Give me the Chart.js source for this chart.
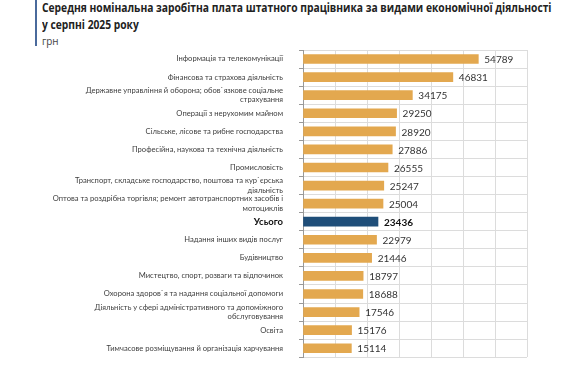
<!DOCTYPE html>
<html><head><meta charset="utf-8">
<script src="https://cdn.jsdelivr.net/npm/chart.js@4/dist/chart.umd.min.js"></script>
<style>
html,body{margin:0;padding:0;background:#fff;width:580px;height:378px;overflow:hidden;}
#wrap{position:relative;width:580px;height:378px;}
#bar{position:absolute;left:35px;top:0;width:2px;height:46px;background:#4a6a9c;}
#t1,#t2,#t3{position:absolute;left:42px;font-family:"Open Sans",sans-serif;color:#222;white-space:nowrap;transform-origin:0 0;}
#t1{top:-1px;font-size:12.6px;font-weight:bold;transform:scaleX(0.815);}
#t2{top:16px;font-size:12.6px;font-weight:bold;transform:scaleX(0.815);}
#t3{top:33px;font-size:11px;color:#444;transform:scaleX(0.9);}
canvas{position:absolute;left:0;top:0;}
</style></head>
<body><div id="wrap">
<div id="bar"></div>
<div id="t1">Середня номінальна заробітна плата штатного працівника за видами економічної діяльності</div>
<div id="t2">у серпні 2025 року</div>
<div id="t3">грн</div>
<canvas id="c" width="580" height="378"></canvas>
</div>
<script>
const categories = [
  ["Інформація та телекомунікації"],
  ["Фінансова та страхова діяльність"],
  ["Державне управління й оборона; обов`язкове соціальне","страхування"],
  ["Операції з нерухомим майном"],
  ["Сільське, лісове та рибне господарства"],
  ["Професійна, наукова та технічна діяльність"],
  ["Промисловість"],
  ["Транспорт, складське господарство, поштова та кур`єрська","діяльність"],
  ["Оптова та роздрібна торгівля; ремонт автотранспортних засобів і","мотоциклів"],
  ["Усього"],
  ["Надання інших видів послуг"],
  ["Будівництво"],
  ["Мистецтво, спорт, розваги та відпочинок"],
  ["Охорона здоров`я та надання соціальної допомоги"],
  ["Діяльність у сфері адміністративного та допоміжного","обслуговування"],
  ["Освіта"],
  ["Тимчасове розміщування й організація харчування"]
];
const values = [54789, 46831, 34175, 29250, 28920, 27886, 26555, 25247, 25004, 23436, 22979, 21446, 18797, 18688, 17546, 15176, 15114];
const totalLabel = "Усього";
const xTicks = {min: 0, max: 70000, step: 10000};

const ORANGE = "#E3A84F", BLUE = "#1F4E79";
const colors = categories.map(c => c[0] === totalLabel ? BLUE : ORANGE);

const dataLabels = {
  id: 'dataLabels',
  afterDatasetsDraw(chart) {
    const ctx = chart.ctx;
    const meta = chart.getDatasetMeta(0);
    ctx.save();
    ctx.textBaseline = 'middle';
    ctx.textAlign = 'left';
    meta.data.forEach((el, i) => {
      const isTotal = categories[i][0] === totalLabel;
      ctx.font = (isTotal ? 'bold ' : '') + '10px Lato, "Open Sans", sans-serif';
      ctx.fillStyle = isTotal ? '#111' : '#333';
      ctx.fillText(String(values[i]), el.x + 6, el.y + 1);
    });
    ctx.restore();
  }
};

new Chart(document.getElementById('c'), {
  type: 'bar',
  data: {
    labels: categories,
    datasets: [{
      data: values,
      backgroundColor: colors,
      barThickness: 9
    }]
  },
  options: {
    indexAxis: 'y',
    responsive: false,
    animation: false,
    events: [],
    layout: {padding: {top: 50, right: 53, bottom: 5, left: 0}},
    plugins: {legend: {display: false}, tooltip: {enabled: false}, title: {display: false}},
    scales: {
      x: {
        min: xTicks.min, max: xTicks.max,
        ticks: {display: false, stepSize: xTicks.step},
        grid: {color: '#dcdcdc', drawTicks: false, lineWidth: 1},
        border: {display: false}
      },
      y: {
        afterFit(axis) { axis.width = 303; },
        ticks: {
          padding: 16,
          autoSkip: false,
          color: (c) => categories[c.index][0] === totalLabel ? '#111' : '#404040',
          font: (c) => categories[c.index] && categories[c.index][0] === totalLabel
            ? {family: 'Lato, "Open Sans", sans-serif', size: 9.5, weight: 'bold', lineHeight: 1.2}
            : {family: 'Lato, "Open Sans", sans-serif', size: 7.6, lineHeight: 1.25}
        },
        grid: {color: '#dcdcdc', tickColor: '#999', tickLength: 4, offset: true},
        border: {display: true, color: '#999'}
      }
    }
  },
  plugins: [dataLabels]
});
</script>
</body></html>
